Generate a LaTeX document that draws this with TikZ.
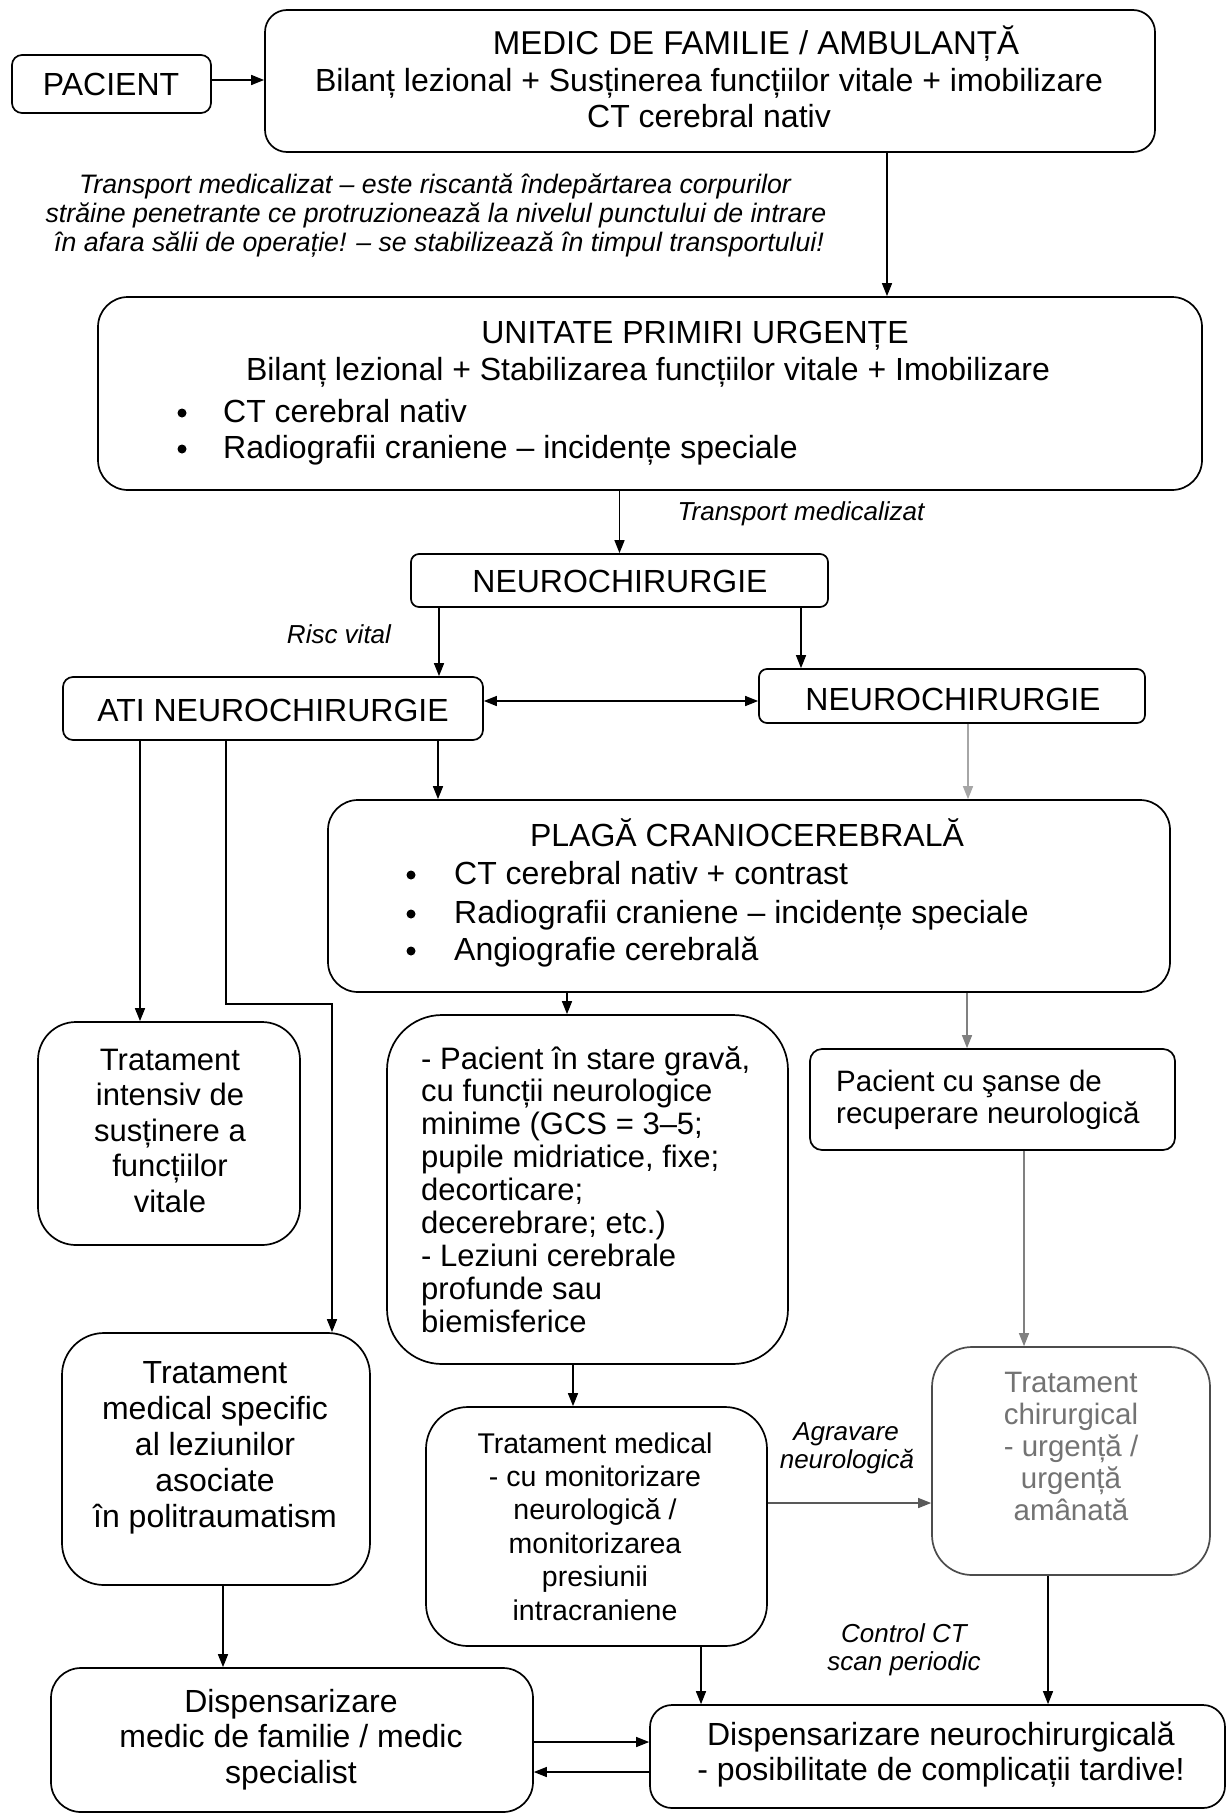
\documentclass[tikz,border=0pt]{standalone}
\usepackage{fontspec}
\setmainfont{Liberation Sans}
\usetikzlibrary{arrows.meta}

% box drawn from its corners: [options]{name}{left}{top}{right}{bottom}{corner radius}
\newcommand\flowbox[7][]{%
  \pgfmathsetmacro\fbW{#5-#3}\pgfmathsetmacro\fbH{#6-#4}%
  \node[box, rounded corners=#7pt, minimum width=\fbW pt, minimum height=\fbH pt, #1]
    (#2) at ({(#3+#5)/2},{(#4+#6)/2}) {};}

\tikzset{
  box/.style={draw, line width=1.7pt, inner sep=0pt},
  tip/.style={-{Triangle[length=13pt,width=10pt]}},
  conn/.style={line width=1.4pt, tip},
  both/.style={line width=1.4pt, {Triangle[length=13pt,width=10pt]}-{Triangle[length=13pt,width=10pt]}},
  faded/.style={draw=black!50},
  txt/.style={inner sep=0pt, anchor=base, font=\fontsize{32}{36}\selectfont},
  lft/.style={txt, anchor=base west},
  title/.style={txt},
  note/.style={inner sep=0pt, anchor=base, font=\fontsize{26}{29}\selectfont\itshape},
  bignote/.style={note, font=\fontsize{26.7}{30}\selectfont\itshape},
  dot/.style={circle, fill, inner sep=0pt, minimum size=9pt},
}

\begin{document}
\begin{tikzpicture}[x=1pt,y=-1pt]
\fill[white] (0,0) rectangle (1228,1817);
\useasboundingbox (0,0) rectangle (1228,1817);

% ---------- boxes ----------
\flowbox{pac}{12}{55}{211}{113}{10}
\flowbox{medic}{265}{10}{1155}{152}{22}
\flowbox{upu}{98}{297}{1202}{490}{30}
\flowbox{neuro1}{411}{554}{828}{607}{8}
\flowbox{ati}{63}{677}{483}{740}{10}
\flowbox{neuro2}{759}{669}{1145}{723}{8}
\flowbox{plaga}{328}{800}{1170}{992}{30}
\flowbox{intens}{38}{1022}{300}{1245}{38}
\flowbox{grave}{387}{1015}{788}{1364}{55}
\flowbox{sanse}{810}{1049}{1175}{1150}{12}
\flowbox{specific}{62}{1333}{370}{1585}{42}
\flowbox{medtrat}{426}{1407}{767}{1646}{42}
\flowbox[draw=black!70]{chir}{932}{1347}{1210}{1575}{40}
\flowbox{dispmf}{51}{1668}{533}{1812}{30}
\flowbox{dispnc}{650}{1705}{1225}{1808}{22}

% ---------- texts ----------
\node[title] (pac-t) at (111,96) {PACIENT};

\node[title, font=\fontsize{33}{37}\selectfont] (medic-t1) at (756,55) {MEDIC DE FAMILIE / AMBULANȚĂ};
\node[txt] (medic-t2) at (709,92) {Bilanț lezional + Susținerea funcțiilor vitale + imobilizare};
\node[txt] (medic-t3) at (709,128) {CT cerebral nativ};

\node[bignote] (tr-1) at (435,193) {Transport medicalizat – este riscantă îndepărtarea corpurilor};
\node[bignote] (tr-2) at (436,222) {străine penetrante ce protruzionează la nivelul punctului de intrare};
\node[bignote] (tr-3) at (439,251) {în afara sălii de operație! – se stabilizează în timpul transportului!};

\node[title] (upu-t1) at (695,343) {UNITATE PRIMIRI URGENȚE};
\node[txt] (upu-t2) at (648,380) {Bilanț lezional + Stabilizarea funcțiilor vitale + Imobilizare};
\node[dot] (upu-d1) at (182,413) {};
\node[lft] (upu-t3) at (223,422) {CT cerebral nativ};
\node[dot] (upu-d2) at (182,449) {};
\node[lft] (upu-t4) at (223,458) {Radiografii craniene – incidențe speciale};

\node[note] (tr-4) at (801,520) {Transport medicalizat};
\node[title] (neuro1-t) at (620,592) {NEUROCHIRURGIE};
\node[note] (risc) at (339,643) {Risc vital};
\node[title] (ati-t) at (273,721) {ATI NEUROCHIRURGIE};
\node[title] (neuro2-t) at (953,710) {NEUROCHIRURGIE};

\node[title] (plaga-t1) at (747,846) {PLAGĂ CRANIOCEREBRALĂ};
\node[dot] (plaga-d1) at (411,875) {};
\node[lft] (plaga-t2) at (454,884) {CT cerebral nativ + contrast};
\node[dot] (plaga-d2) at (411,914) {};
\node[lft] (plaga-t3) at (454,923) {Radiografii craniene – incidențe speciale};
\node[dot] (plaga-d3) at (411,951) {};
\node[lft] (plaga-t4) at (454,960) {Angiografie cerebrală};

\foreach \ltxt [count=\i from 0] in {Tratament, intensiv de, susținere a, funcțiilor, vitale}
  \node[txt, font=\fontsize{31}{35}\selectfont] (intens-t\i) at (170,1070+35.5*\i) {\ltxt};

\foreach \ltxt [count=\i from 0] in {{- Pacient în stare gravă,}, {cu funcții neurologice},
    {minime (GCS = 3–5;}, {pupile midriatice, fixe;}, {decorticare;}, {decerebrare; etc.)},
    {- Leziuni cerebrale}, {profunde sau}, {biemisferice}}
  \node[lft, font=\fontsize{31}{35}\selectfont] (grave-t\i) at (421,1069+32.9*\i) {\ltxt};

\node[lft, font=\fontsize{29.5}{33}\selectfont] (sanse-t1) at (836,1091) {Pacient cu şanse de};
\node[lft, font=\fontsize{29.5}{33}\selectfont] (sanse-t2) at (836,1123) {recuperare neurologică};

\foreach \ltxt [count=\i from 0] in {Tratament, medical specific, al leziunilor, asociate, în politraumatism}
  \node[txt] (specific-t\i) at (215,1383+36*\i) {\ltxt};

\foreach \ltxt [count=\i from 0] in {Tratament medical, - cu monitorizare, neurologică /,
    monitorizarea, presiunii, intracraniene}
  \node[txt, font=\fontsize{28.5}{32}\selectfont] (medtrat-t\i) at (595,1453+33.4*\i) {\ltxt};

\foreach \ltxt [count=\i from 0] in {Tratament, chirurgical, - urgență /, urgență, amânată}
  \node[txt, font=\fontsize{29.5}{33}\selectfont, text=black!55] (chir-t\i) at (1071,1392+32*\i) {\ltxt};

\node[note] (agr-1) at (846,1440) {Agravare};
\node[note] (agr-2) at (847,1468) {neurologică};
\node[note] (ctl-1) at (904,1642) {Control CT};
\node[note] (ctl-2) at (904,1670) {scan periodic};

\foreach \ltxt [count=\i from 0] in {Dispensarizare, medic de familie / medic, specialist}
  \node[txt] (dispmf-t\i) at (291,1712+35.5*\i) {\ltxt};
\node[txt] (dispnc-t1) at (941,1745) {Dispensarizare neurochirurgicală};
\node[txt] (dispnc-t2) at (941,1780) {- posibilitate de complicații tardive!};

% ---------- connector positions ----------
\coordinate (yPac) at (0,80);
\coordinate (xMU) at (887,0);
\coordinate (xNA) at (439,0);
\coordinate (xNN) at (801,0);
\coordinate (yAN) at (0,701);
\coordinate (xNP) at (968,0);
\coordinate (xAP) at (438,0);
\coordinate (xAI) at (140,0);
\coordinate (xAS) at (226,0);
\coordinate (bend) at (332,1004);
\coordinate (xPG) at (567,0);
\coordinate (xPS) at (967,0);
\coordinate (xGM) at (573,0);
\coordinate (xSC) at (1024,0);
\coordinate (yMC) at (0,1503);
\coordinate (xSD) at (223,0);
\coordinate (xMD) at (701,0);
\coordinate (xCD) at (1048,0);
\coordinate (yD1) at (0,1742);
\coordinate (yD2) at (0,1772);

% ---------- connectors ----------
\draw[conn] (pac.east |- yPac) -- (medic.west |- yPac);
\draw[conn] (medic.south -| xMU) -- (upu.north -| xMU);
\draw[conn] (upu.south -| neuro1.north) -- (neuro1.north);
\draw[conn] (neuro1.south -| xNA) -- (ati.north -| xNA);
\draw[conn] (neuro1.south -| xNN) -- (neuro2.north -| xNN);
\draw[both] (ati.east |- yAN) -- (neuro2.west |- yAN);
\draw[conn, draw=black!35, fill=black!35] (neuro2.south -| xNP) -- (plaga.north -| xNP);
\draw[conn] (ati.south -| xAP) -- (plaga.north -| xAP);
\draw[conn] (ati.south -| xAI) -- (intens.north -| xAI);
\draw[conn] (ati.south -| xAS) |- (bend) -- (specific.north -| bend);
\draw[conn] (plaga.south -| xPG) -- (grave.north -| xPG);
\draw[conn, faded] (plaga.south -| xPS) -- (sanse.north -| xPS);
\draw[conn] (grave.south -| xGM) -- (medtrat.north -| xGM);
\draw[conn, faded] (sanse.south -| xSC) -- (chir.north -| xSC);
\draw[conn, draw=black!65] (medtrat.east |- yMC) -- (chir.west |- yMC);
\draw[conn] (specific.south -| xSD) -- (dispmf.north -| xSD);
\draw[conn] (medtrat.south -| xMD) -- (dispnc.north -| xMD);
\draw[conn] (chir.south -| xCD) -- (dispnc.north -| xCD);
\draw[conn] (dispmf.east |- yD1) -- (dispnc.west |- yD1);
\draw[conn] (dispnc.west |- yD2) -- (dispmf.east |- yD2);
\end{tikzpicture}
\end{document}
